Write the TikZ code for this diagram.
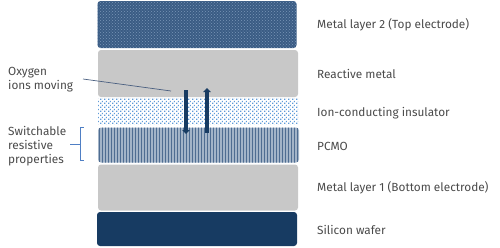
\documentclass[tikz,border=0pt]{standalone}
\usepackage{fontspec}
\setmainfont{Fira Sans}
\usetikzlibrary{patterns,patterns.meta,arrows.meta}
\definecolor{navy}{HTML}{173B62}
\definecolor{topbase}{HTML}{3A5C84}
\definecolor{topdot}{HTML}{7A96B8}
\definecolor{graylayer}{HTML}{C8C8C8}
\definecolor{dotblue}{HTML}{5E9BD8}
\definecolor{pcmobase}{HTML}{A3B4C8}
\definecolor{pcmoline}{HTML}{4F6D92}
\definecolor{txt}{HTML}{4A4A4A}
\definecolor{brace}{HTML}{4F7FC4}
\definecolor{leader}{HTML}{4A5F80}
\tikzdeclarepattern{name=insdots, type=colored,
  bounding box={(0pt,0pt) and (4pt,4pt)}, tile size={(4pt,4pt)},
  code={\fill[dotblue] (0.3pt,0.3pt) rectangle (1.7pt,1.7pt); \fill[dotblue] (2.3pt,2.3pt) rectangle (3.7pt,3.7pt);}}
\tikzset{
  layer/.style={rectangle, rounded corners=3pt, inner sep=0pt, draw=none},
  lbl/.style={anchor=west, inner sep=0pt, text=txt, font=\fontsize{11.8}{13}\selectfont},
  llbl/.style={anchor=west, inner sep=0pt, text=txt, align=left, font=\fontsize{11.8}{14.2}\selectfont},
  ionarrow/.style={navy, line width=3.5pt, -{Triangle[width=7.5pt,length=4pt]}},
}
\begin{document}
\begin{tikzpicture}[x=1pt,y=-1pt]
\useasboundingbox (0,0) rectangle (500,247);
% layers
\node[layer, fill=topbase, minimum width=199pt, minimum height=47pt] (m2) at (197,24.5) {};
\fill[pattern=crosshatch dots, pattern color=topdot, rounded corners=3pt] (97.5,1) rectangle (296.5,48);
\node[layer, fill=graylayer, minimum width=200pt, minimum height=47pt] (rm) at (198,73.5) {};
\node[layer, fill=white, minimum width=200pt, minimum height=26pt] (ins) at (198,111) {};
\fill[pattern=insdots] (98,98.5) rectangle (298,124);
\node[layer, fill=pcmobase, minimum width=201pt, minimum height=35pt] (pcmo) at (198.5,145) {};
\fill[pattern=vertical lines, pattern color=pcmoline, rounded corners=3pt] (98,127.5) rectangle (299,162.5);
\node[layer, fill=graylayer, minimum width=200pt, minimum height=46pt] (m1) at (198,187.5) {};
\node[layer, fill=navy, minimum width=200pt, minimum height=34pt] (si) at (197,229) {};
% arrows
\coordinate (dTop) at (186,90);
\coordinate (dBot) at (186,134);
\coordinate (uBot) at (207,133);
\coordinate (uTop) at (207,88);
\draw[ionarrow] (dTop) -- (dBot);
\draw[ionarrow] (uBot) -- (uTop);
% right labels
\node[lbl] (t1) at (317,25) {Metal layer 2 (Top electrode)};
\node[lbl] (t2) at (317,74) {Reactive metal};
\node[lbl] (t3) at (317,113) {Ion-conducting insulator};
\node[lbl] (t4) at (317,146) {PCMO};
\node[lbl] (t5) at (317,188) {Metal layer 1 (Bottom electrode)};
\node[lbl] (t6) at (317,230) {Silicon wafer};
% left labels
\node[llbl] (ox) at (8,80) {Oxygen\\ions moving};
\node[llbl] (sw) at (8,146) {Switchable\\resistive\\properties};
\coordinate (oxEnd) at (171,91);
\draw[leader, line width=0.7pt] (83,79) -- (oxEnd);
\draw[brace, line width=0.8pt] (83.5,127) -- (80,127) -- (80,160) -- (83.5,160);
\draw[brace, line width=0.8pt] (80,144.5) -- (70,144.5);
\end{tikzpicture}
\end{document}
